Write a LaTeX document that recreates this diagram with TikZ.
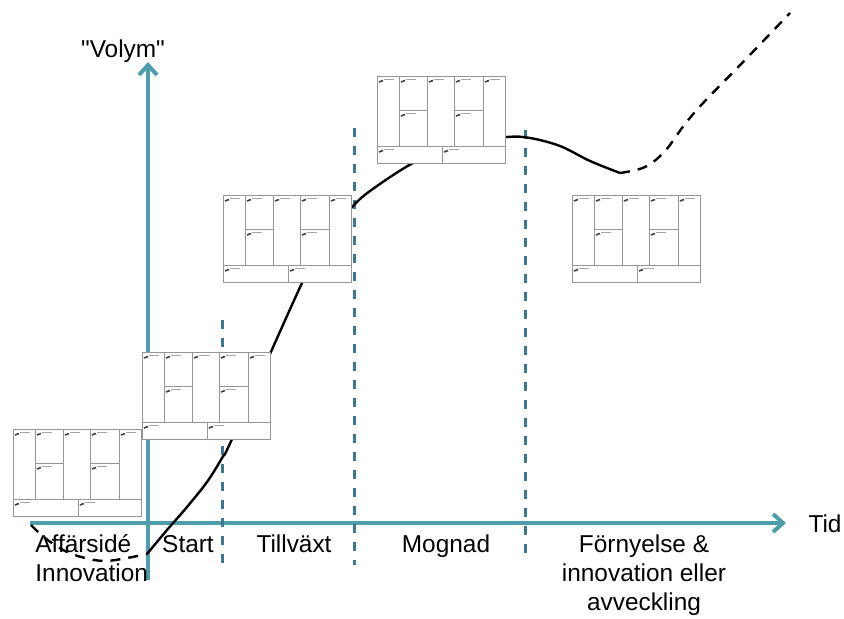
\documentclass[tikz,border=0pt]{standalone}
\usepackage{fontspec}
\setmainfont{Liberation Sans}
\usepackage{tikz}
\usetikzlibrary{arrows.meta}

\definecolor{axisteal}{RGB}{76,158,171}
\definecolor{phaseblue}{RGB}{57,120,145}
\definecolor{canvasgray}{RGB}{150,150,150}

\tikzset{
  axisline/.style={axisteal, line width=2pt, -{Straight Barb[length=5pt,width=9pt]}},
  phase/.style={phaseblue, line width=1.5pt, dash pattern=on 4.5pt off 4.5pt},
  life/.style={black, line width=1.2pt},
  lifedash/.style={life, dash pattern=on 5pt off 4pt},
  lbl/.style={font=\fontsize{12.2}{14.5}\selectfont, inner sep=0pt},
  bmcline/.style={canvasgray, line width=0.4pt},
  bmcmark/.style={black!75, line width=0.8pt},
  bmctext/.style={black!35, line width=0.3pt},
  % business model canvas thumbnail, origin = top left corner
  bmc/.pic={
    \filldraw[bmcline, fill=white] (0,0) rectangle (128,87);
    \foreach \cx in {22,50,77,106}
      \draw[bmcline] (\cx,0) -- (\cx,70);
    \draw[bmcline] (0,70) -- (128,70) (65,70) -- (65,87)
      (22,34) -- (50,34) (77,34) -- (106,34);
    \foreach \cx/\cy in {0/0,22/0,50/0,77/0,106/0,22/34,77/34,0/70,65/70} {
      \draw[bmcmark] (\cx+2,\cy+6) -- ++(4,-1.5);
      \draw[bmctext] (\cx+7,\cy+3.5) -- ++(10,0);
    }
  }
}

\begin{document}
\begin{tikzpicture}[x=0.5pt, y=-0.5pt]
\useasboundingbox (0,0) rectangle (844,619);

% axes
\coordinate (ybot) at (148,580);
\coordinate (ytop) at (148,62);
\coordinate (xleft) at (30,523);
\coordinate (xright) at (786,523);
\draw[axisline] (ybot) -- (ytop);
\draw[axisline] (xleft) -- (xright);

% phase borders
\draw[phase] (222,320) -- (222,567);
\draw[phase] (354,128) -- (354,565);
\draw[phase] (525,130) -- (525,562);

% life cycle curve
\draw[lifedash] plot[smooth, tension=0.6] coordinates {(31,525) (45,538) (65,551) (85,558) (105,561) (127,558) (147,554)};
\draw[life] plot[smooth, tension=0.55] coordinates {(147,554) (167,530) (187,507) (207,482) (222,458) (233,437) (302,283) (322,248) (340,222) (352,207) (370,191) (413,163) (460,143) (507,137) (530,138) (560,146) (590,161) (620,173)};
\draw[lifedash] plot[smooth, tension=0.6] coordinates {(620,173) (645,167) (665,151) (685,124) (705,101) (745,60) (790,13)};

% canvases
\pic (cA) at (13,429) {bmc};
\pic (cB) at (142,352) {bmc};
\pic (cC) at (223,195) {bmc};
\pic (cD) at (377,76) {bmc};
\pic (cE) at (572,195) {bmc};

% labels
\node[lbl, anchor=base] (volym) at (123,58) {\textquotedbl Volym\textquotedbl};
\node[lbl, anchor=base] (tid) at (825,532) {Tid};
\node[lbl, anchor=north west, align=left] (idea) at (35,534) {Affärsidé\\Innovation};
\node[lbl, anchor=base] (start) at (188,552) {Start};
\node[lbl, anchor=base] (growth) at (294,552) {Tillväxt};
\node[lbl, anchor=base] (mature) at (446,552) {Mognad};
\node[lbl, anchor=north, align=center] (renew) at (644,534) {Förnyelse \&\\innovation eller\\avveckling};

\end{tikzpicture}
\end{document}
